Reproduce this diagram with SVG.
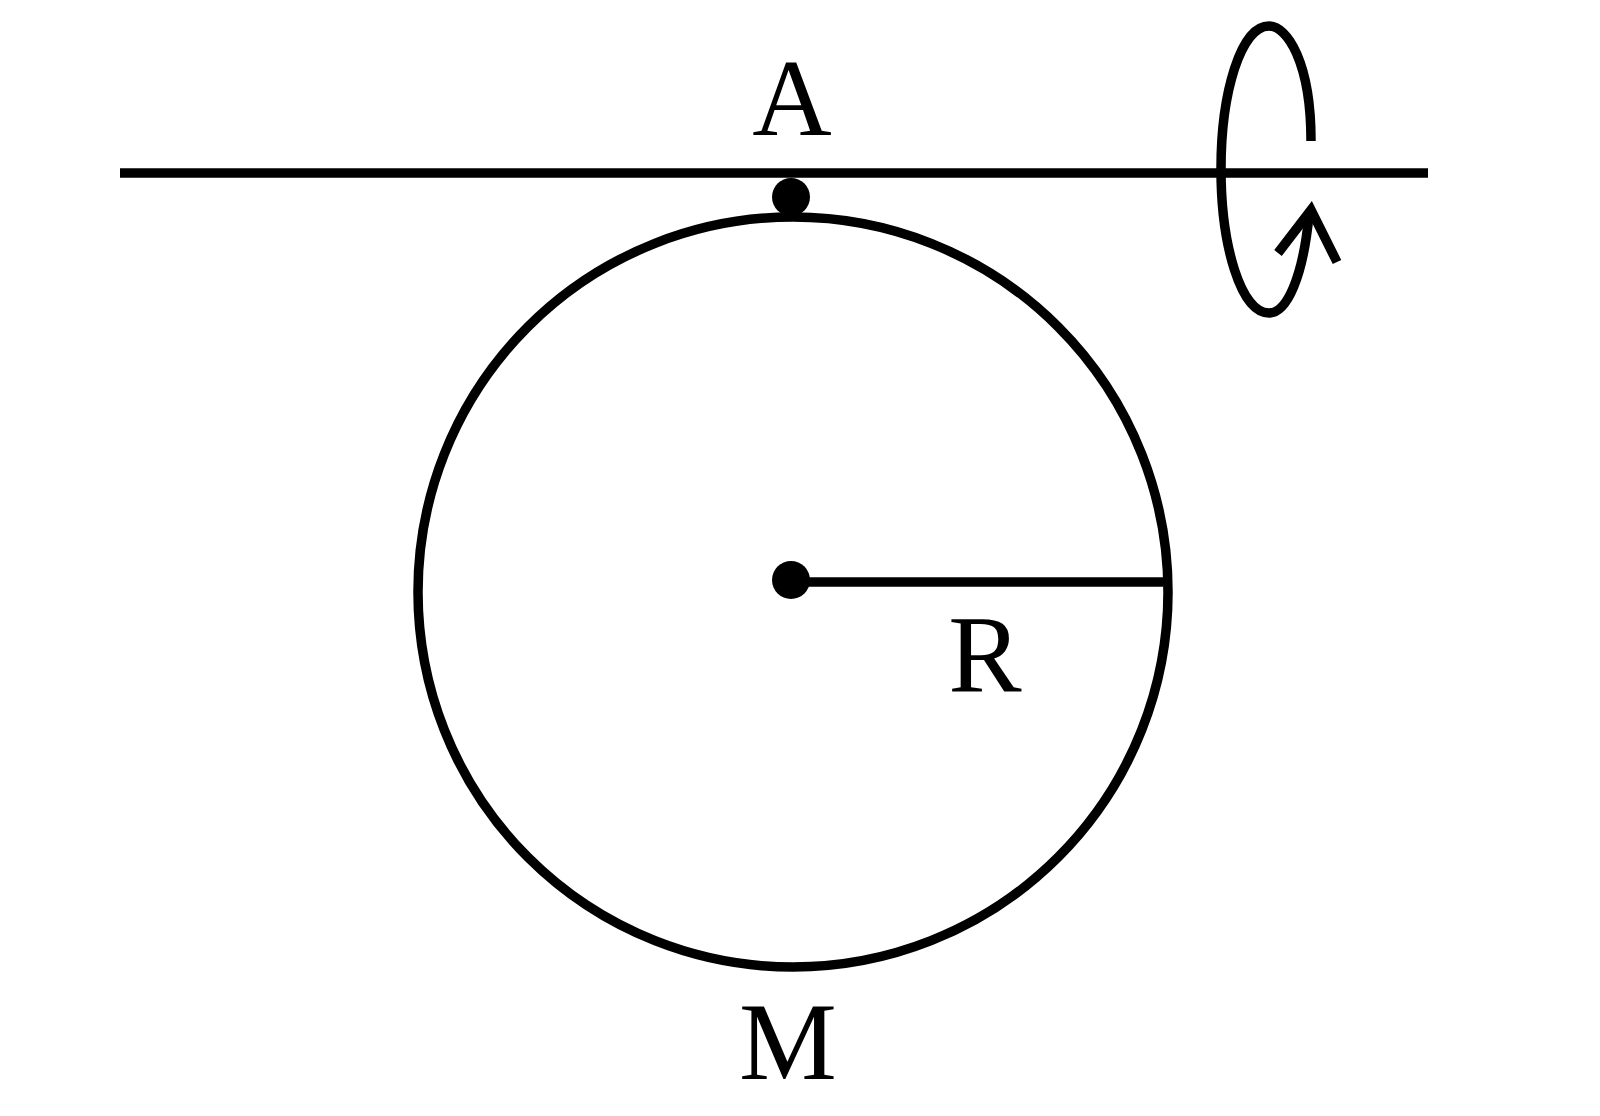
<svg xmlns="http://www.w3.org/2000/svg" width="1600" height="1116" viewBox="0 0 1600 1116">
<style>.s{fill:none;stroke:#000;stroke-width:9.5;stroke-linecap:butt}.t{font-family:'Liberation Serif','Times New Roman',Times,serif;font-size:110px;fill:#000;text-anchor:middle}</style>
<rect width="1600" height="1116" fill="#fff"/>
<g id="axis"><line class="s" x1="120" y1="173" x2="1428" y2="173"/></g>
<g id="ring"><circle class="s" cx="793" cy="592" r="375"/></g>
<g id="pivot"><circle cx="791" cy="197" r="19"/></g>
<g id="center"><circle cx="791" cy="580" r="19"/></g>
<g id="connectors">
<line class="s" x1="791" y1="582" x2="1163" y2="582"/>
<path class="s" d="M1311,141 C1311,62 1287,26 1269,26 C1241,26 1221,92 1221,169 C1221,246 1241,313 1269,313 C1287,313 1303,277 1309,215"/>
<polyline class="s" points="1278,253 1311,210 1337,262"/>
</g>
<g id="labels">
<text class="t" x="792" y="135">A</text>
<text class="t" x="985" y="692">R</text>
<text class="t" x="788" y="1079">M</text>
</g>
</svg>
